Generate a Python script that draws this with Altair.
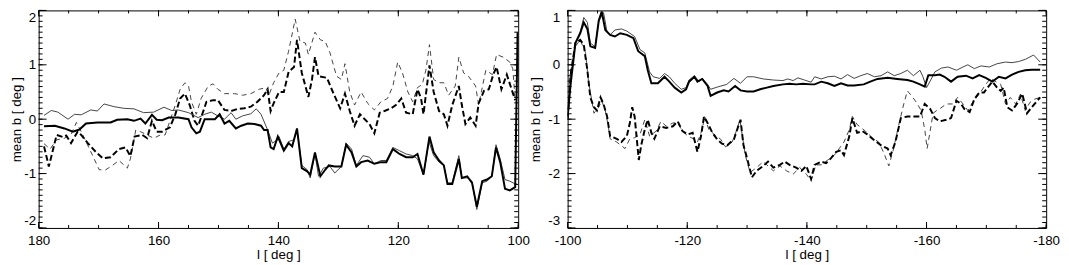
import altair as alt
import pandas as pd
import numpy as np

# ---------------- data ----------------
# Left panel: l from 180 to 100
L_thick_l = [179.1,177.3,175.7,174.3,173.2,172.1,170.2,168.0,166.9,165.2,164.1,163.0,162.2,161.1,160.3,159.4,158.3,156.7,155.0,154.5,153.7,153.1,152.3,150.6,149.8,149.0,148.2,147.1,146.2,145.1,144.0,142.9,142.4,141.8,141.3,140.8,140.1,139.1,138.3,137.7,136.9,136.1,135.2,134.7,133.9,133.0,132.2,131.6,130.6,129.5,128.7,127.8,127.0,126.2,125.1,124.0,122.9,122.0,120.9,119.8,118.7,117.6,116.8,115.8,114.8,114.1,113.2,112.4,111.8,111.0,109.9,109.4,108.5,107.7,106.9,106.0,105.2,104.4,103.7,103.0,102.2,101.4,100.5,100.1]
L_thick_b = [-0.13,-0.12,-0.17,-0.23,-0.19,-0.08,-0.06,-0.06,-0.01,0.0,-0.03,0.01,-0.08,0.08,-0.01,-0.02,0.03,0.03,0.0,-0.15,-0.26,-0.23,0.0,0.0,0.09,-0.08,-0.03,-0.17,-0.12,-0.08,-0.09,-0.12,-0.20,-0.20,-0.52,-0.55,-0.32,-0.58,-0.44,-0.50,-0.17,-0.90,-0.96,-1.02,-0.61,-1.05,-0.93,-0.85,-0.87,-0.87,-0.47,-0.61,-0.87,-0.79,-0.76,-0.82,-0.79,-0.79,-0.55,-0.64,-0.70,-0.70,-0.64,-1.02,-0.32,-0.61,-0.76,-0.85,-1.19,-1.19,-0.73,-1.08,-1.05,-1.17,-1.61,-1.14,-1.11,-1.05,-0.52,-0.79,-1.28,-1.31,-1.25,1.6]

L_thin_l = [179.1,177.9,176.8,175.1,174.0,172.9,171.3,170.2,169.1,167.4,165.8,164.1,162.5,160.8,159.1,157.8,156.7,155.0,153.4,152.3,151.2,150.1,149.0,147.9,147.1,146.0,144.6,143.7,142.9,141.8,141.0,140.2,139.9,139.1,138.3,137.4,136.9,136.1,135.2,134.7,133.9,133.3,132.5,131.4,130.6,129.5,128.7,127.8,127.0,125.9,124.8,124.0,122.9,122.0,120.9,119.8,118.7,117.6,116.8,115.8,114.9,114.1,113.2,112.4,111.8,111.0,109.9,109.4,108.5,107.7,106.9,106.0,105.2,104.4,103.7,103.0,102.2,101.4,100.5,100.2]
L_thin_b = [0.07,0.16,0.13,0.0,0.09,0.08,0.17,0.15,0.28,0.23,0.20,0.19,0.12,0.13,0.22,0.16,0.17,0.12,0.03,0.09,0.13,0.06,0.0,0.12,0.0,0.06,0.10,0.19,0.09,-0.20,-0.44,-0.38,-0.32,-0.55,-0.41,-0.38,-0.19,-0.85,-0.93,-1.08,-0.64,-1.05,-0.90,-0.87,-0.99,-0.87,-0.44,-0.55,-0.85,-0.67,-0.70,-0.82,-0.76,-0.76,-0.52,-0.58,-0.64,-0.67,-0.73,-1.02,-0.41,-0.67,-0.79,-0.85,-1.17,-1.17,-0.67,-1.08,-1.08,-1.14,-1.66,-1.17,-1.14,-1.05,-0.47,-0.73,-1.11,-1.14,-1.19,-1.19]

L_thickdash_l = [179.1,178.3,177.0,175.9,175.4,174.6,173.5,172.9,171.8,170.4,169.3,168.0,166.6,165.5,164.7,164.0,162.7,161.9,161.1,160.3,159.4,158.1,157.2,156.4,155.6,154.8,154.0,153.4,152.9,152.0,150.9,150.1,149.0,147.9,146.8,145.7,144.6,143.5,142.4,141.8,141.3,140.8,139.9,139.1,138.3,137.4,136.9,136.1,135.5,135.0,134.4,133.9,133.3,131.9,130.8,129.7,128.9,128.1,127.3,126.4,125.6,124.8,124.0,123.1,122.3,121.2,120.4,119.5,118.7,117.6,116.8,116.2,115.8,114.8,114.1,113.2,112.4,111.8,111.0,109.9,109.4,108.8,108.0,107.1,106.6,105.7,104.9,104.1,103.6,102.8,101.9,101.1,100.5]
L_thickdash_b = [-0.50,-0.87,-0.29,-0.33,-0.30,-0.44,-0.23,-0.29,-0.44,-0.61,-0.72,-0.70,-0.55,-0.52,-0.68,-0.32,-0.29,-0.35,-0.03,-0.23,-0.23,-0.15,0.09,0.38,0.47,0.26,-0.03,-0.12,0.03,0.32,0.35,0.35,0.17,0.15,0.19,0.20,0.23,0.32,0.44,0.55,0.15,0.29,0.50,0.50,0.87,0.96,1.46,0.85,0.61,0.41,0.73,1.14,0.79,0.76,0.47,0.20,0.47,0.15,-0.12,0.09,0.0,-0.09,-0.26,0.12,0.15,0.20,0.26,0.38,0.12,0.09,0.55,0.38,0.09,0.99,0.50,0.15,0.09,-0.12,0.26,0.61,0.26,-0.09,0.03,-0.12,0.29,0.52,0.55,0.84,0.96,0.55,0.82,0.55,0.35]

L_thindash_l = [179.1,178.1,177.0,175.7,174.6,173.7,172.9,171.5,169.9,168.8,167.7,166.6,165.2,164.7,163.8,163.0,161.9,160.8,159.7,158.9,158.1,157.2,156.4,155.6,155.0,154.5,153.7,152.9,151.7,150.9,150.1,149.0,147.3,146.0,144.6,143.2,142.1,141.6,140.8,139.9,139.1,138.3,137.2,136.4,135.5,135.0,133.9,133.0,132.2,131.4,130.3,129.5,128.9,128.1,127.3,126.2,125.1,124.0,122.9,121.8,120.9,120.1,119.3,118.4,117.6,116.8,116.0,115.4,114.8,114.1,113.2,112.4,111.6,110.5,109.9,109.1,108.3,107.1,106.6,105.4,104.3,103.6,102.5,101.4,100.9,100.5]
L_thindash_b = [-0.45,-0.55,-0.38,-0.35,-0.28,-0.06,-0.23,-0.55,-0.93,-0.93,-0.85,-0.76,-0.90,-0.73,-0.20,-0.23,-0.29,-0.35,-0.29,-0.29,-0.03,0.26,0.55,0.67,0.61,0.32,0.09,0.38,0.61,0.65,0.55,0.47,0.47,0.44,0.47,0.55,0.58,0.44,0.67,0.85,0.90,1.25,1.84,1.43,1.40,1.19,1.60,1.46,1.43,1.22,0.79,0.73,1.02,0.50,0.26,0.50,0.29,0.17,0.32,0.38,0.61,1.05,0.85,0.50,0.32,0.58,0.64,0.90,1.37,0.73,0.67,0.67,0.44,0.61,1.14,0.85,0.79,0.61,0.26,0.90,0.82,1.19,1.14,1.05,0.93,0.35]

# Right panel: l from -100 to -180
R_thick_l = [-100.0,-100.5,-101.3,-102.1,-102.7,-103.3,-103.8,-104.6,-105.2,-105.7,-106.3,-107.1,-107.9,-108.8,-109.9,-111.0,-111.8,-112.9,-113.4,-114.0,-115.1,-116.2,-117.0,-117.9,-119.0,-119.8,-120.3,-121.2,-121.7,-122.5,-123.4,-123.9,-125.0,-126.1,-126.9,-128.0,-128.9,-130.0,-131.1,-132.2,-133.3,-134.4,-136.0,-137.1,-138.2,-139.3,-140.7,-141.3,-142.4,-143.5,-144.6,-145.7,-146.8,-147.9,-149.5,-150.6,-151.8,-153.5,-155.1,-156.8,-157.8,-158.9,-159.7,-160.3,-161.4,-162.2,-163.0,-164.1,-165.2,-166.6,-167.7,-168.8,-169.9,-171.0,-172.1,-173.2,-174.3,-175.4,-176.5,-177.6,-179.0]
R_thick_b = [-0.95,-0.36,0.40,0.58,0.78,0.66,0.34,0.31,0.81,0.98,0.64,0.55,0.52,0.58,0.55,0.49,0.25,0.16,-0.10,-0.34,-0.34,-0.22,-0.31,-0.42,-0.51,-0.45,-0.31,-0.22,-0.31,-0.26,-0.39,-0.57,-0.51,-0.47,-0.49,-0.39,-0.47,-0.49,-0.49,-0.45,-0.42,-0.39,-0.36,-0.35,-0.36,-0.35,-0.36,-0.36,-0.31,-0.34,-0.39,-0.34,-0.38,-0.38,-0.36,-0.31,-0.26,-0.24,-0.26,-0.28,-0.31,-0.36,-0.40,-0.19,-0.19,-0.18,-0.22,-0.31,-0.22,-0.20,-0.25,-0.19,-0.24,-0.31,-0.22,-0.25,-0.18,-0.13,-0.10,-0.09,-0.09]

R_thin_l = [-100.0,-100.5,-101.3,-102.1,-102.7,-103.3,-103.8,-104.6,-105.2,-106.0,-106.6,-107.1,-107.9,-109.0,-109.9,-111.2,-112.1,-112.9,-113.7,-114.3,-115.4,-116.2,-117.0,-117.9,-119.0,-119.8,-120.3,-121.2,-122.0,-122.5,-123.4,-123.9,-125.0,-126.6,-127.8,-128.9,-130.0,-131.1,-132.7,-134.4,-136.0,-136.8,-137.7,-138.5,-139.6,-140.7,-141.3,-142.4,-143.5,-144.6,-145.7,-146.8,-147.9,-149.0,-150.1,-151.3,-152.4,-153.5,-154.6,-155.7,-156.8,-157.8,-158.9,-159.4,-160.0,-160.6,-161.4,-162.5,-163.6,-165.0,-166.1,-166.9,-168.0,-169.1,-170.5,-171.8,-173.2,-174.3,-175.4,-176.5,-177.9,-179.0]
R_thin_b = [-0.95,-0.30,0.40,0.60,0.87,0.78,0.40,0.33,0.80,0.96,0.60,0.55,0.64,0.66,0.62,0.52,0.28,0.22,-0.13,-0.22,-0.25,-0.16,-0.22,-0.34,-0.45,-0.42,-0.28,-0.20,-0.31,-0.25,-0.36,-0.45,-0.41,-0.36,-0.25,-0.34,-0.22,-0.22,-0.26,-0.28,-0.29,-0.26,-0.29,-0.24,-0.28,-0.32,-0.22,-0.26,-0.22,-0.21,-0.26,-0.18,-0.25,-0.20,-0.16,-0.22,-0.20,-0.13,-0.20,-0.16,-0.10,-0.20,-0.10,-0.22,-0.42,-0.30,-0.13,-0.06,-0.04,-0.10,-0.04,0.0,-0.07,-0.02,-0.04,0.02,0.05,0.04,0.06,0.10,0.18,0.05]

R_thickdash_l = [-100.0,-100.5,-101.3,-102.1,-102.7,-103.3,-103.8,-104.4,-104.9,-105.5,-106.0,-106.6,-107.1,-108.2,-109.0,-109.9,-110.4,-110.8,-111.2,-111.9,-112.3,-112.9,-113.4,-114.0,-114.5,-115.4,-116.5,-117.6,-118.4,-119.2,-120.1,-120.9,-121.7,-122.3,-122.8,-123.4,-124.2,-125.0,-125.8,-126.7,-127.8,-128.9,-129.4,-130.0,-130.8,-131.6,-132.7,-133.5,-134.4,-135.5,-136.3,-137.1,-138.2,-139.1,-139.9,-140.7,-141.3,-142.4,-143.2,-144.0,-144.9,-145.7,-146.2,-147.1,-147.6,-148.4,-149.3,-150.1,-151.3,-152.4,-153.5,-154.0,-154.8,-155.7,-156.8,-157.8,-158.9,-159.7,-160.6,-161.4,-162.2,-163.3,-164.1,-165.0,-165.8,-166.3,-167.2,-168.0,-168.8,-169.6,-170.2,-171.0,-171.8,-172.4,-172.9,-173.5,-174.3,-175.1,-176.0,-176.8,-177.6,-178.5,-179.0]
R_thickdash_b = [-1.00,-0.19,0.40,0.46,0.37,-0.10,-0.60,-0.78,-0.84,-0.60,-0.72,-0.95,-1.31,-1.36,-1.42,-1.31,-1.07,-0.78,-0.95,-1.75,-1.48,-1.19,-1.01,-1.25,-1.36,-1.13,-1.16,-1.13,-1.04,-1.22,-1.28,-1.25,-1.60,-1.31,-0.95,-1.07,-1.25,-1.37,-1.45,-1.48,-1.37,-1.01,-1.48,-1.72,-2.07,-1.95,-1.86,-1.78,-1.89,-1.84,-1.78,-1.84,-1.89,-1.95,-1.86,-2.10,-1.84,-1.78,-1.81,-1.72,-1.60,-1.57,-1.66,-1.31,-0.98,-1.25,-1.22,-1.28,-1.39,-1.48,-1.54,-1.66,-1.42,-0.98,-0.95,-0.95,-0.95,-0.72,-0.81,-0.98,-1.04,-1.01,-0.98,-0.66,-0.72,-0.81,-0.87,-0.63,-0.51,-0.51,-0.42,-0.31,-0.42,-0.48,-0.42,-0.78,-0.84,-0.72,-0.53,-0.89,-0.78,-0.66,-0.60]

R_thindash_l = [-100.0,-100.5,-101.3,-102.1,-103.0,-103.5,-104.4,-105.2,-105.7,-106.3,-106.8,-107.1,-108.2,-109.6,-110.4,-111.2,-112.1,-112.9,-113.7,-114.8,-115.6,-116.5,-117.6,-118.4,-119.2,-120.1,-121.2,-121.7,-122.5,-122.9,-123.6,-124.5,-125.6,-126.4,-127.5,-128.3,-128.8,-129.7,-130.5,-131.6,-132.7,-133.5,-134.4,-135.5,-136.6,-137.7,-138.8,-139.9,-140.7,-141.5,-142.4,-143.5,-144.6,-145.4,-146.2,-147.1,-147.6,-148.4,-149.8,-150.9,-152.0,-152.9,-153.7,-154.5,-155.3,-156.2,-156.8,-157.5,-158.3,-159.1,-159.7,-160.1,-160.6,-161.1,-161.7,-162.2,-163.3,-164.4,-165.2,-166.1,-166.9,-167.7,-168.8,-169.9,-170.7,-171.6,-172.4,-173.2,-174.0,-174.9,-175.7,-176.5,-177.3,-178.1,-179.0]
R_thindash_b = [-0.95,-0.13,0.34,0.46,0.22,-0.31,-0.89,-0.78,-0.66,-0.84,-1.13,-1.36,-1.42,-1.54,-1.36,-1.34,-1.28,-1.01,-1.31,-1.22,-1.04,-1.13,-1.07,-1.07,-1.22,-1.31,-1.37,-1.42,-1.19,-0.95,-1.19,-1.28,-1.37,-1.51,-1.42,-1.19,-1.01,-1.66,-1.98,-1.89,-1.78,-1.86,-1.95,-1.86,-1.95,-2.01,-1.89,-2.01,-2.13,-1.84,-1.84,-1.75,-1.66,-1.54,-1.42,-1.19,-0.95,-1.10,-1.22,-1.34,-1.42,-1.63,-1.86,-1.54,-1.13,-0.72,-0.48,-0.57,-0.69,-0.84,-1.19,-1.54,-1.22,-0.89,-0.84,-0.81,-0.72,-0.72,-0.60,-0.72,-0.84,-0.69,-0.54,-0.36,-0.25,-0.31,-0.36,-0.72,-0.60,-0.72,-0.54,-0.84,-0.69,-0.63,-0.60]

# axis tick labels
L_xlabels = [180, 160, 140, 120, 100]
L_ylabels = [-2, -1, 0, 1, 2]
R_xlabels = [-100, -120, -140, -160, -180]
R_ylabels = [-3, -2, -1, 0, 1]

X_TITLE = "l [ deg ]"
Y_TITLE = "mean b [ deg ]"

# ---------------- styling ----------------
FONT = "Liberation Sans"
FS = 13.5
H = 220
STYLES = {
    "thin_dash": dict(color="#444", strokeWidth=1, strokeDash=[5, 4]),
    "thick_dash": dict(color="black", strokeWidth=2, strokeDash=[6, 3]),
    "thin": dict(color="#444", strokeWidth=1),
    "thick": dict(color="black", strokeWidth=2),
}


def panel(series, xdom, ydom, xvals, yvals, W, lab_pad, title_pad):
    xs = alt.Scale(domain=xdom, reverse=True, nice=False, zero=False)
    ys = alt.Scale(domain=ydom, nice=False, zero=False)
    xaxis = alt.Axis(title=X_TITLE, values=xvals, labelExpr="datum.value + ''",
                     ticks=False, tickSize=0, domain=False, grid=False,
                     labelPadding=6, titlePadding=0, labelFlush=False)
    yaxis = alt.Axis(title=Y_TITLE, values=yvals, labelExpr="datum.value + ''",
                     ticks=False, tickSize=0, domain=False, grid=False,
                     labelPadding=lab_pad, titlePadding=title_pad, labelFlush=True)
    X = lambda f: alt.X(f, scale=xs, axis=xaxis, title=X_TITLE)
    Y = lambda f: alt.Y(f, scale=ys, axis=yaxis, title=Y_TITLE)

    layers = []
    for key, ls, bs in series:
        df = pd.DataFrame({"l": ls, "b": bs})
        layers.append(
            alt.Chart(df).mark_line(clip=True, **STYLES[key]).encode(
                x=X("l:Q"), y=Y("b:Q"),
            )
        )

    # inward tick marks on all four sides (IDL style)
    xmin_v = list(np.arange(xdom[0], xdom[1] + 0.01, 5.0))
    ymin_v = [round(v, 2) for v in np.arange(ydom[0], ydom[1] + 0.001, 0.1)]

    def xt(vals, L):
        d = pd.DataFrame({"l": vals})
        b = alt.Chart(d).mark_rule(color="black", strokeWidth=1)
        return [
            b.encode(x=X("l:Q"), y=alt.value(H), y2=alt.value(H - L)),
            b.encode(x=X("l:Q"), y=alt.value(0), y2=alt.value(L)),
        ]

    def yt(vals, L):
        d = pd.DataFrame({"b": vals})
        b = alt.Chart(d).mark_rule(color="black", strokeWidth=1)
        return [
            b.encode(y=Y("b:Q"), x=alt.value(0), x2=alt.value(L)),
            b.encode(y=Y("b:Q"), x=alt.value(W), x2=alt.value(W - L)),
        ]

    layers += xt(xmin_v, 3) + xt(xvals, 6) + yt(ymin_v, 4) + yt(yvals, 8)
    return alt.layer(*layers).properties(width=W, height=H)


left = panel(
    [("thin_dash", L_thindash_l, L_thindash_b),
     ("thick_dash", L_thickdash_l, L_thickdash_b),
     ("thin", L_thin_l, L_thin_b),
     ("thick", L_thick_l, L_thick_b)],
    [100, 180], [-2, 2], L_xlabels, L_ylabels, 485, 3, 0.5,
)
right = panel(
    [("thin_dash", R_thindash_l, R_thindash_b),
     ("thick_dash", R_thickdash_l, R_thickdash_b),
     ("thin", R_thin_l, R_thin_b),
     ("thick", R_thick_l, R_thick_b)],
    [-180, -100], [-3, 1], R_xlabels, R_ylabels, 484, 8, 5,
)

chart = alt.hconcat(left, right, spacing=50, bounds="flush").configure(
    padding=0, background="white"
).configure_view(stroke="black", strokeWidth=1).configure_axis(
    labelFont=FONT, titleFont=FONT, labelFontSize=FS, titleFontSize=FS,
    titleFontWeight="normal", labelColor="black", titleColor="black",
)

chart.save("out.html", embed_options={"renderer": "svg", "actions": False})
